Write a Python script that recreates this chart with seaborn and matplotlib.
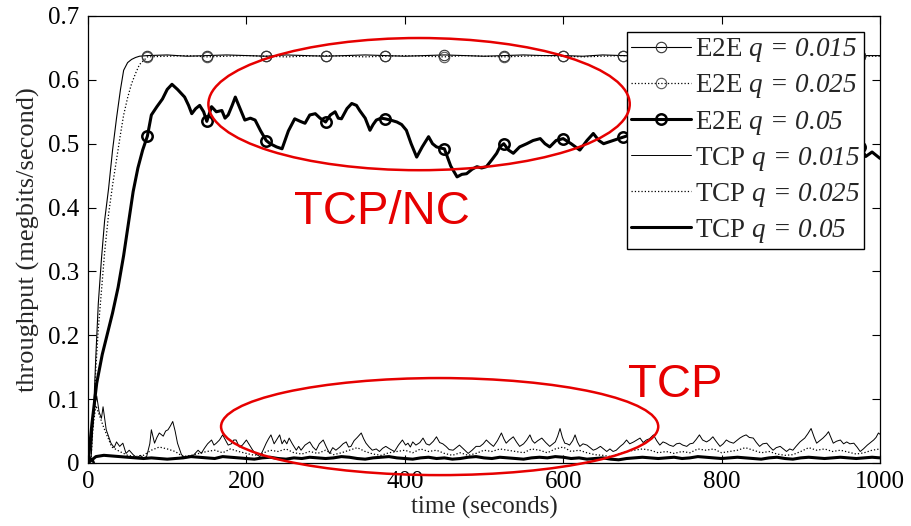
import numpy as np
import pandas as pd
import matplotlib
matplotlib.use("Agg")
import matplotlib.pyplot as plt
from matplotlib.patches import Ellipse
import seaborn as sns

# ---- E2E (TCP/NC) throughput, megabits/second ----
e2e_time = [0, 4, 7, 10, 13, 17, 21, 26, 31, 36, 41, 45, 50, 55, 60, 65,
            75, 100, 125, 150, 175, 200, 225, 250, 275, 300, 325, 350, 375,
            400, 425, 450, 475, 500, 525, 550, 575, 600, 625, 650, 675, 700,
            725, 750, 775, 800, 825, 850, 875, 900, 925, 950, 975, 1000]
e2e_015 = [0.0, 0.01, 0.08, 0.17, 0.25, 0.32, 0.38, 0.43, 0.49, 0.54, 0.585,
           0.615, 0.627, 0.632, 0.635, 0.637,
           0.638, 0.639, 0.637, 0.638, 0.639, 0.638, 0.637, 0.639, 0.638,
           0.637, 0.638, 0.639, 0.638, 0.637, 0.638, 0.639, 0.638, 0.637,
           0.638, 0.639, 0.638, 0.638, 0.637, 0.639, 0.638, 0.637, 0.638,
           0.639, 0.638, 0.637, 0.638, 0.639, 0.638, 0.637, 0.638, 0.639,
           0.638, 0.638]
e2e_025 = [0.0, 0.01, 0.07, 0.15, 0.21, 0.27, 0.33, 0.39, 0.435, 0.475, 0.515,
           0.545, 0.572, 0.594, 0.610, 0.624,
           0.636, 0.637, 0.638, 0.636, 0.637, 0.638, 0.637, 0.636, 0.637,
           0.638, 0.637, 0.636, 0.637, 0.638, 0.637, 0.636, 0.638, 0.637,
           0.636, 0.637, 0.638, 0.637, 0.636, 0.637, 0.638, 0.637, 0.636,
           0.637, 0.638, 0.637, 0.636, 0.637, 0.638, 0.637, 0.636, 0.637,
           0.637, 0.637]

e2e_05_time = [0, 5, 11, 18, 24, 31, 38, 45, 51, 57, 63, 69, 75, 80, 87, 94,
               100, 106, 113, 122, 127, 131, 136, 141, 146, 150, 156, 162,
               169, 173, 177, 182, 186, 192, 198, 205, 211, 218, 225, 230,
               238, 245, 253, 261, 268, 274, 280, 287, 293, 300, 306, 312,
               316, 320, 327, 333, 339, 343, 350, 356, 360, 364, 370, 375,
               382, 390, 396, 402, 408, 415, 422, 430, 435, 440, 446, 450,
               458, 466, 472, 478, 485, 491, 497, 503, 510, 516, 520, 525,
               531, 537, 545, 554, 562, 571, 577, 583, 591, 600, 610, 621,
               630, 638, 645, 651, 675, 700, 725, 750, 775, 800, 825, 850,
               875, 900, 925, 950, 965, 975, 982, 990, 1000]
e2e_05 = [0.0, 0.062, 0.125, 0.17, 0.20, 0.235, 0.275, 0.325, 0.375, 0.425,
          0.462, 0.49, 0.512, 0.545, 0.558, 0.57, 0.585, 0.593, 0.585, 0.573,
          0.56, 0.547, 0.555, 0.56, 0.55, 0.535, 0.558, 0.55, 0.552, 0.54,
          0.545, 0.56, 0.573, 0.555, 0.537, 0.54, 0.537, 0.52, 0.505, 0.50,
          0.495, 0.492, 0.52, 0.539, 0.535, 0.532, 0.545, 0.547, 0.54, 0.534,
          0.545, 0.55, 0.54, 0.539, 0.555, 0.563, 0.56, 0.552, 0.54, 0.521,
          0.53, 0.537, 0.54, 0.539, 0.537, 0.534, 0.53, 0.521, 0.50, 0.479,
          0.495, 0.511, 0.50, 0.495, 0.493, 0.492, 0.465, 0.448, 0.452,
          0.453, 0.46, 0.464, 0.462, 0.464, 0.475, 0.485, 0.495, 0.50, 0.49,
          0.485, 0.495, 0.50, 0.505, 0.508, 0.50, 0.495, 0.505, 0.508, 0.50,
          0.49, 0.505, 0.516, 0.505, 0.50, 0.51, 0.52, 0.505, 0.52, 0.53,
          0.515, 0.53, 0.52, 0.51, 0.50, 0.505, 0.50, 0.49, 0.495, 0.48,
          0.487, 0.477]

# ---- plain TCP throughput ----
tcp_015_time = [0, 4, 8, 11, 14, 17, 19, 23, 29, 33, 36, 40, 44, 48, 52, 57,
                62, 66, 70, 74, 78, 80, 84, 87, 90, 95, 98, 101, 104, 107,
                110, 113, 118, 123, 128, 133, 139, 143, 147, 151, 156, 159,
                162, 166, 170, 174, 177, 181, 184, 187, 191, 195, 200, 204,
                208, 212, 217, 221, 225, 228, 231, 235, 238, 242, 245, 248,
                251, 254, 258, 263, 266, 269, 274, 280, 284, 288, 292, 297,
                301, 305, 309, 313, 318, 322, 326, 329, 332, 336, 340, 345,
                348, 351, 355, 359, 364, 368, 372, 376, 381, 387, 392, 397,
                401, 404, 407, 410, 414, 419, 423, 427, 431, 436, 440, 444,
                448, 452, 456, 461, 465, 469, 474, 480, 485, 490, 495, 499,
                503, 508, 512, 517, 522, 525, 528, 532, 537, 541, 545, 550,
                554, 558, 561, 564, 568, 573, 578, 583, 587, 590, 593, 596,
                599, 602, 605, 608, 612, 615, 618, 621, 625, 630, 634, 638,
                642, 647, 651, 655, 659, 663, 667, 672, 676, 680, 684, 689,
                693, 697, 701, 705, 709, 714, 718, 722, 726, 730, 734, 739,
                743, 747, 751, 756, 760, 764, 768, 772, 776, 781, 785, 789,
                793, 798, 802, 806, 810, 815, 819, 823, 827, 831, 835, 840,
                844, 848, 852, 857, 861, 865, 869, 874, 878, 882, 886, 890,
                894, 899, 902, 905, 909, 913, 917, 920, 924, 928, 932, 935,
                938, 941, 945, 950, 954, 958, 962, 967, 971, 975, 979, 984,
                988, 992, 995, 998, 1000]
tcp_015 = [0.0, 0.03, 0.085, 0.105, 0.08, 0.07, 0.088, 0.052, 0.031, 0.024,
           0.033, 0.026, 0.031, 0.015, 0.02, 0.013, 0.008, 0.012, 0.008,
           0.01, 0.03, 0.052, 0.031, 0.04, 0.047, 0.042, 0.05, 0.052, 0.058,
           0.065, 0.05, 0.031, 0.013, 0.008, 0.01, 0.012, 0.02, 0.015, 0.023,
           0.03, 0.036, 0.028, 0.031, 0.036, 0.044, 0.035, 0.028, 0.03,
           0.036, 0.036, 0.025, 0.028, 0.036, 0.028, 0.02, 0.014, 0.01, 0.02,
           0.031, 0.038, 0.044, 0.03, 0.036, 0.044, 0.03, 0.036, 0.03, 0.039,
           0.03, 0.02, 0.026, 0.02, 0.028, 0.033, 0.025, 0.02, 0.03, 0.036,
           0.025, 0.015, 0.024, 0.02, 0.025, 0.03, 0.033, 0.025, 0.026,
           0.035, 0.04, 0.047, 0.038, 0.031, 0.025, 0.02, 0.022, 0.018,
           0.023, 0.026, 0.022, 0.018, 0.028, 0.036, 0.028, 0.031, 0.025,
           0.033, 0.028, 0.032, 0.039, 0.03, 0.028, 0.034, 0.041, 0.032,
           0.03, 0.026, 0.021, 0.02, 0.024, 0.028, 0.022, 0.015, 0.02, 0.026,
           0.026, 0.03, 0.036, 0.03, 0.026, 0.035, 0.047, 0.038, 0.031,
           0.036, 0.041, 0.033, 0.026, 0.03, 0.036, 0.044, 0.035, 0.031,
           0.035, 0.039, 0.032, 0.026, 0.03, 0.033, 0.042, 0.054, 0.04,
           0.031, 0.03, 0.028, 0.035, 0.044, 0.033, 0.026, 0.03, 0.028,
           0.024, 0.02, 0.022, 0.026, 0.022, 0.018, 0.022, 0.018, 0.02,
           0.026, 0.03, 0.036, 0.03, 0.033, 0.036, 0.039, 0.032, 0.036,
           0.038, 0.044, 0.035, 0.028, 0.033, 0.031, 0.028, 0.026, 0.03,
           0.031, 0.028, 0.026, 0.03, 0.031, 0.037, 0.044, 0.036, 0.033,
           0.036, 0.041, 0.034, 0.026, 0.03, 0.036, 0.033, 0.031, 0.035,
           0.039, 0.042, 0.044, 0.04, 0.039, 0.032, 0.026, 0.03, 0.031,
           0.025, 0.02, 0.024, 0.026, 0.022, 0.018, 0.022, 0.02, 0.026,
           0.033, 0.036, 0.039, 0.046, 0.054, 0.04, 0.031, 0.035, 0.039,
           0.044, 0.049, 0.04, 0.031, 0.034, 0.036, 0.03, 0.033, 0.03, 0.031,
           0.025, 0.018, 0.022, 0.028, 0.032, 0.036, 0.04, 0.047, 0.045]

tcp_time = list(range(0, 1001, 10))
tcp_025 = [0.0, 0.09, 0.055, 0.025, 0.018, 0.012, 0.01, 0.012, 0.02, 0.025,
           0.022, 0.018, 0.01, 0.012, 0.015, 0.018, 0.02, 0.016, 0.022,
           0.018, 0.015, 0.012, 0.015, 0.02, 0.018, 0.022, 0.016, 0.014,
           0.018, 0.015, 0.02, 0.013, 0.016, 0.02, 0.024, 0.018, 0.014,
           0.012, 0.016, 0.018, 0.02, 0.016, 0.022, 0.018, 0.02, 0.015,
           0.012, 0.016, 0.012, 0.015, 0.02, 0.018, 0.022, 0.02, 0.018,
           0.016, 0.022, 0.02, 0.016, 0.022, 0.025, 0.018, 0.02, 0.016,
           0.013, 0.012, 0.01, 0.014, 0.018, 0.02, 0.022, 0.02, 0.016, 0.018,
           0.015, 0.018, 0.016, 0.022, 0.02, 0.022, 0.016, 0.018, 0.02,
           0.024, 0.02, 0.016, 0.018, 0.014, 0.012, 0.013, 0.018, 0.024,
           0.02, 0.022, 0.018, 0.02, 0.017, 0.014, 0.016, 0.02, 0.022]
tcp_05 = [0.0, 0.01, 0.012, 0.011, 0.01, 0.009, 0.008, 0.007, 0.008, 0.007,
          0.006, 0.007, 0.008, 0.01, 0.009, 0.008, 0.007, 0.01, 0.009, 0.008,
          0.007, 0.006, 0.008, 0.009, 0.007, 0.006, 0.008, 0.007, 0.009,
          0.008, 0.007, 0.008, 0.01, 0.009, 0.007, 0.006, 0.008, 0.009,
          0.01, 0.008, 0.007, 0.006, 0.008, 0.009, 0.007, 0.008, 0.006,
          0.007, 0.009, 0.01, 0.008, 0.007, 0.009, 0.008, 0.007, 0.006,
          0.008, 0.009, 0.008, 0.01, 0.009, 0.007, 0.008, 0.006, 0.007,
          0.008, 0.006, 0.005, 0.007, 0.008, 0.009, 0.008, 0.007, 0.008,
          0.009, 0.007, 0.008, 0.01, 0.009, 0.008, 0.007, 0.008, 0.009,
          0.008, 0.007, 0.006, 0.008, 0.009, 0.007, 0.006, 0.008, 0.009,
          0.008, 0.007, 0.008, 0.009, 0.008, 0.007, 0.008, 0.009, 0.008]

marker_period = 75
x_ticks = [0, 200, 400, 600, 800, 1000]
y_ticks = [0, 0.1, 0.2, 0.3, 0.4, 0.5, 0.6, 0.7]
y_tick_labels = ["0", "0.1", "0.2", "0.3", "0.4", "0.5", "0.6", "0.7"]

sns.set_style("ticks")
plt.rcParams["font.family"] = ["Liberation Serif", "DejaVu Serif"]
# math parts of the legend labels are set entirely in italic serif
plt.rcParams["mathtext.fontset"] = "custom"
plt.rcParams["mathtext.it"] = "Liberation Serif:italic"
plt.rcParams["mathtext.rm"] = "Liberation Serif:italic"
plt.rcParams["mathtext.default"] = "it"

fig = plt.figure(figsize=(9.12, 5.26), dpi=100)
ax = fig.add_axes([0.0965, 0.1198, 0.8684, 0.8498])


def marks(times):
    return [i for i, t in enumerate(times) if t % marker_period == 0]


def draw(times, values, label, lw, ls, marker=None, mew=0.8, mec="k", z=2):
    kw = dict(color="k", linewidth=lw, linestyle=ls, label=label, zorder=z)
    if marker:
        kw.update(marker=marker, markevery=marks(times), markersize=7.5,
                  markerfacecolor="none", markeredgecolor=mec,
                  markeredgewidth=mew)
    sns.lineplot(x=times, y=values, ax=ax, estimator=None, sort=False, **kw)


def lbl(name, q):
    return name + r" $q\,=\," + q + "$"


draw(tcp_time, tcp_05, lbl("TCP", "0.05"), 2.2, "-", z=3)
draw(tcp_time, tcp_025, lbl("TCP", "0.025"), 0.9, ":")
draw(tcp_015_time, tcp_015, lbl("TCP", "0.015"), 0.7, "-")
draw(e2e_time, e2e_025, lbl("E2E", "0.025"), 0.9, ":", marker="o", mec="#555555")
draw(e2e_time, e2e_015, lbl("E2E", "0.015"), 0.8, "-", marker="o", mec="#333333")
draw(e2e_05_time, e2e_05, lbl("E2E", "0.05"), 2.2, "-", marker="o", mew=1.8, z=4)

ax.set_xlim(0, 1000)
ax.set_ylim(0, 0.7)
ax.set_xticks(x_ticks)
ax.set_yticks(y_ticks)
ax.set_yticklabels(y_tick_labels)
ax.tick_params(direction="in", length=6, width=0.8, top=True, right=True,
               labelsize=18, pad=6, colors="k")
for s in ax.spines.values():
    s.set_linewidth(0.9)
    s.set_color("k")
ax.set_xlabel("time (seconds)", fontsize=18, labelpad=2)
ax.set_ylabel("throughput (megbits/second)", fontsize=19, labelpad=6)

handles, labels = ax.get_legend_handles_labels()
order = [4, 3, 5, 2, 1, 0]
leg = ax.legend([handles[i] for i in order], [labels[i] for i in order],
                loc="upper right", fontsize=19.5, frameon=True, fancybox=False,
                edgecolor="k", framealpha=1, borderaxespad=0.6,
                handlelength=2.2, handletextpad=0.15, labelspacing=0.3,
                borderpad=0.15)
leg.get_frame().set_linewidth(1.0)
leg.set_zorder(10)

# annotations
red = "#e60000"
ax.add_patch(Ellipse((418, 0.562), 532, 0.207, fill=False, edgecolor=red,
                     linewidth=1.8, clip_on=False, zorder=12))
ax.add_patch(Ellipse((444, 0.057), 552, 0.152, fill=False, edgecolor=red,
                     linewidth=1.8, clip_on=False, zorder=12))
ax.text(371, 0.393, "TCP/NC", color=red, fontsize=34, ha="center",
        va="center", family="Liberation Sans", zorder=12)
ax.text(742, 0.122, "TCP", color=red, fontsize=34, ha="center",
        va="center", family="Liberation Sans", zorder=12)

fig.savefig("out.png", dpi=100, facecolor="white")
